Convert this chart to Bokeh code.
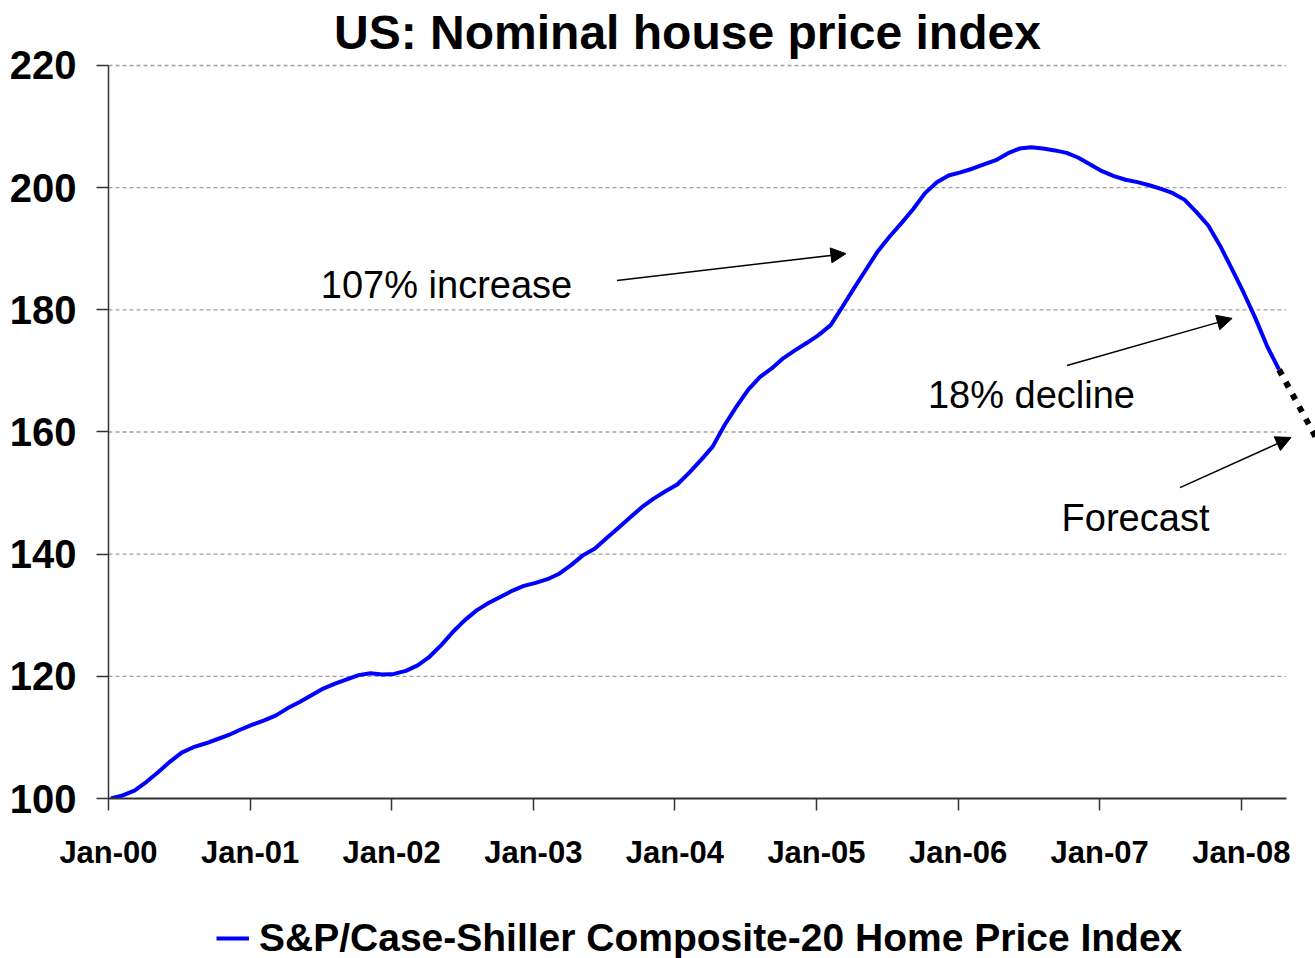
from bokeh.plotting import figure
from bokeh.layouts import column
from bokeh.models import (FixedTicker, Label, Arrow, NormalHead, Legend, LegendItem,
                          Range1d, ColumnDataSource)
from bokeh.embed import file_html
from bokeh.resources import INLINE

# ---------------- data ----------------
# months since Jan-2000 (0 = Jan-00)
month_index = list(range(100))
hpi = [100.0, 100.5, 101.3, 102.7, 104.3, 106.0, 107.5, 108.4, 109.0, 109.7, 110.4, 111.3,
       112.1, 112.8, 113.6, 114.8, 115.8, 116.9, 118.0, 118.8, 119.5, 120.2, 120.5, 120.3,
       120.4, 120.9, 121.8, 123.2, 125.1, 127.3, 129.2, 130.8, 132.0, 133.0, 134.0, 134.8,
       135.3, 135.9, 136.8, 138.2, 139.8, 140.9, 142.6, 144.3, 146.0, 147.7, 149.1, 150.3,
       151.4, 153.3, 155.4, 157.6, 161.1, 164.1, 166.9, 169.0, 170.4, 172.1, 173.4, 174.6,
       175.9, 177.5, 180.5, 183.6, 186.6, 189.6, 192.0, 194.2, 196.5, 199.1, 200.9, 202.0,
       202.5, 203.1, 203.8, 204.5, 205.6, 206.4, 206.6, 206.4, 206.1, 205.7, 204.9, 203.8,
       202.7, 201.9, 201.3, 200.9, 200.4, 199.8, 199.1, 198.0, 196.0, 193.8, 190.5, 186.7,
       182.8, 178.6, 174.0, 170.2]
forecast_months = [99, 103]
forecast_values = [170.2, 156.0]

year_ticks = [0, 1, 2, 3, 4, 5, 6, 7, 8]
year_labels = ["Jan-00", "Jan-01", "Jan-02", "Jan-03", "Jan-04", "Jan-05", "Jan-06", "Jan-07", "Jan-08"]
y_ticks = [100, 120, 140, 160, 180, 200, 220]

series_name = "S&P/Case-Shiller Composite-20 Home Price Index"
title_text = "US: Nominal house price index"

# ---------------- styling ----------------
FONT = "Liberation Sans, Arial, sans-serif"
X_END = 8.524       # right edge of frame (years)
AXIS_END = 8.316    # where axis / gridlines stop
Y_TOP = 230.64      # frame top (value) so that 220 sits at the axis top


def to_years(m):
    return [(v + 0.2) / 12.0 for v in m]


p = figure(width=1315, height=878, output_backend="svg", toolbar_location=None,
           x_range=Range1d(0, X_END), y_range=Range1d(100, Y_TOP),
           min_border_left=108, min_border_right=0, min_border_top=0, min_border_bottom=80)
p.outline_line_color = None
p.xgrid.visible = False
p.ygrid.visible = False
p.background_fill_color = "white"
p.border_fill_color = "white"

# gridlines (dashed, stop at axis end)
grid_y = [v for v in y_ticks if v != 100]
p.segment(x0=[0] * len(grid_y), x1=[AXIS_END] * len(grid_y), y0=grid_y, y1=grid_y,
          line_color="#a0a0a0", line_width=1.3, line_dash="4 3")

# main series
src = ColumnDataSource(dict(x=to_years(month_index), y=hpi))
main = p.line("x", "y", source=src, line_color="#0000ff", line_width=4)

# forecast
p.line(to_years(forecast_months), forecast_values, line_color="black", line_width=6,
       line_dash="6 8")

# axes
xa = p.xaxis[0]
xa.ticker = FixedTicker(ticks=year_ticks)
xa.major_label_overrides = {t: l for t, l in zip(year_ticks, year_labels)}
xa.bounds = (0, AXIS_END)
xa.axis_line_color = "#333333"
xa.axis_line_width = 2
xa.major_tick_line_color = "#333333"
xa.major_tick_line_width = 1.5
xa.major_tick_out = 12
xa.major_tick_in = 0
xa.minor_tick_line_color = None
xa.major_label_text_font = FONT
xa.major_label_text_font_style = "bold"
xa.major_label_text_font_size = "31px"
xa.major_label_text_color = "black"
xa.major_label_standoff = 24

ya = p.yaxis[0]
ya.ticker = FixedTicker(ticks=y_ticks)
ya.bounds = (100, 220)
ya.axis_line_color = "#333333"
ya.axis_line_width = 1.5
ya.major_tick_line_color = "#333333"
ya.major_tick_line_width = 1.5
ya.major_tick_out = 12
ya.major_tick_in = 0
ya.minor_tick_line_color = None
ya.major_label_text_font = FONT
ya.major_label_text_font_style = "bold"
ya.major_label_text_font_size = "40px"
ya.major_label_text_color = "black"
ya.major_label_standoff = 20

# title
p.add_layout(Label(x=4.089, y=225.33, text=title_text, text_align="center",
                   text_baseline="middle", text_font=FONT, text_font_style="bold",
                   text_font_size="48px", text_color="black"))

# annotations
ann_font = dict(text_font=FONT, text_font_size="38px", text_color="black",
                text_baseline="middle", text_align="center")
p.add_layout(Label(x=2.387, y=184.07, text="107% increase", **ann_font))
p.add_layout(Label(x=6.518, y=165.98, text="18% decline", **ann_font))
p.add_layout(Label(x=7.253, y=145.92, text="Forecast", **ann_font))

for (x0, y0, x1, y1) in [(3.591, 184.8, 5.208, 189.2),
                         (6.769, 170.9, 7.935, 178.6),
                         (7.567, 150.9, 8.351, 159.1)]:
    p.add_layout(Arrow(x_start=x0, y_start=y0, x_end=x1, y_end=y1,
                       line_color="black", line_width=1.5,
                       end=NormalHead(size=15, fill_color="black", line_color="black")))

# legend (separate strip below the chart)
lg = figure(width=1315, height=80, output_backend="svg", toolbar_location=None,
            x_range=Range1d(0, 1), y_range=Range1d(0, 1),
            x_axis_location=None, y_axis_location=None,
            min_border_left=0, min_border_right=0, min_border_top=0, min_border_bottom=0)
lg.grid.visible = False
lg.outline_line_color = None
lg.background_fill_color = "white"
lg.border_fill_color = "white"
lg_line = lg.line(x=[float("nan")], y=[float("nan")], line_color="#0000ff", line_width=4)
legend = Legend(items=[LegendItem(label=series_name, renderers=[lg_line])],
                location=(108, -2), orientation="horizontal",
                label_text_font=FONT, label_text_font_style="bold",
                label_text_font_size="39px", label_text_color="black",
                glyph_width=33, glyph_height=30, label_standoff=10,
                border_line_color=None, background_fill_alpha=0,
                margin=0, padding=0, spacing=0)
lg.add_layout(legend)

layout = column(p, lg, spacing=0)
open("out.html", "w").write(file_html(layout, INLINE))
